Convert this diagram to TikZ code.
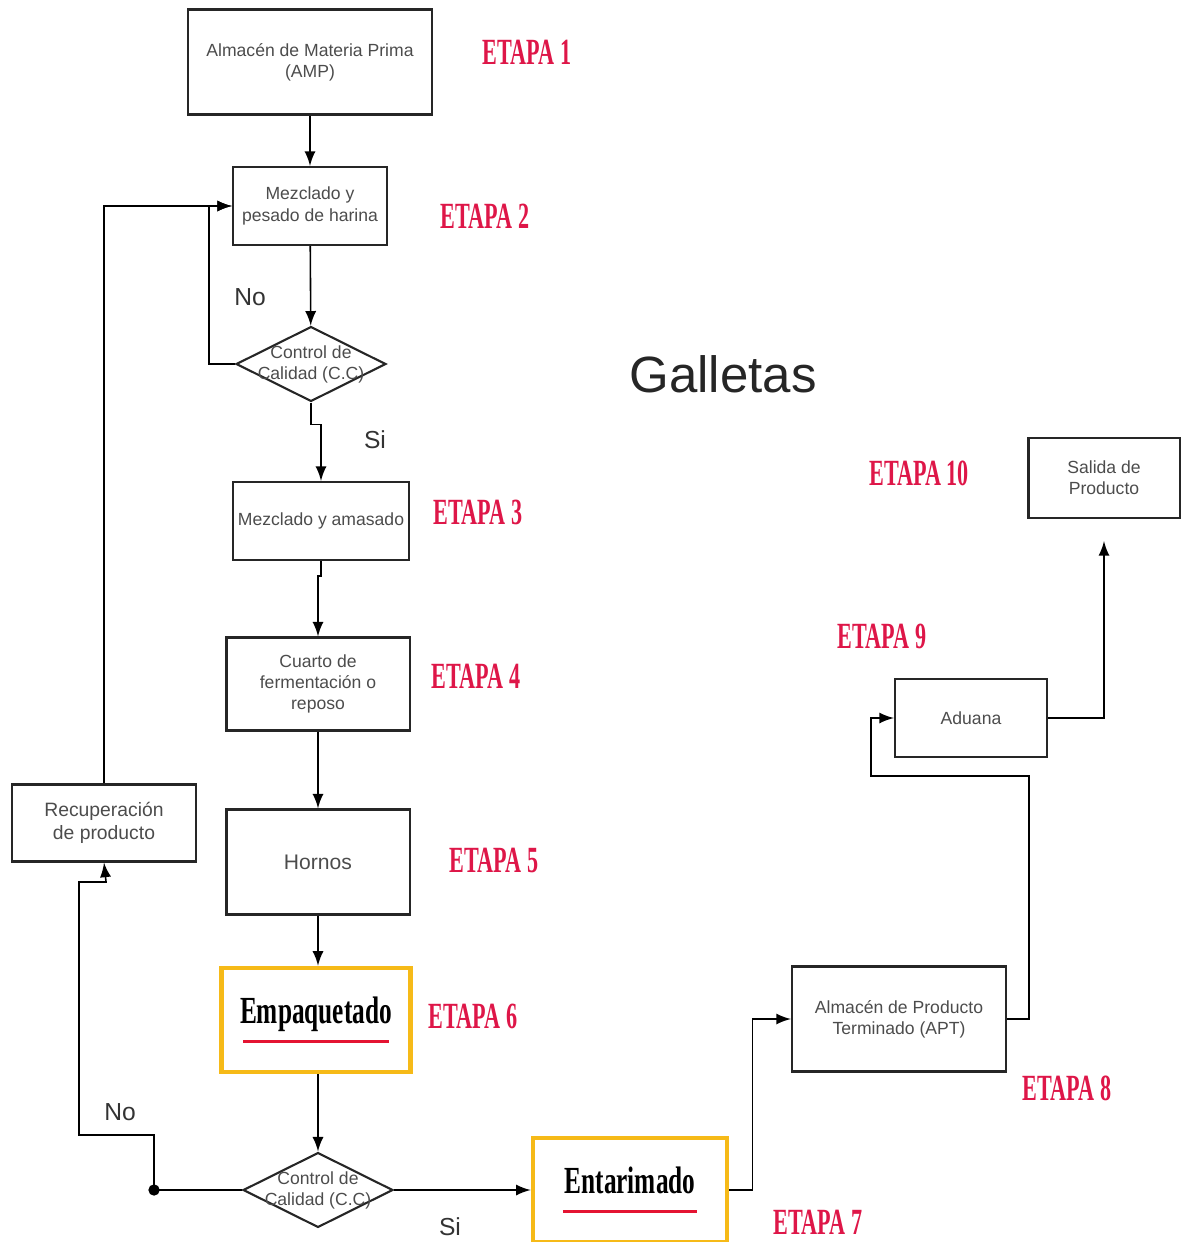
\documentclass[tikz,border=0pt]{standalone}
\usepackage{fontspec}
\setmainfont{Liberation Sans}
\newfontfamily\etapafont{Liberation Serif}
\usetikzlibrary{shapes.geometric}
\usetikzlibrary{calc}

\definecolor{etapared}{RGB}{222,22,72}
\definecolor{boxyellow}{RGB}{246,186,24}
\definecolor{rayared}{RGB}{228,20,50}

\newcommand{\etapatxt}[1]{\scalebox{0.6}[1]{#1}}
\newcommand{\bigtxt}[1]{\scalebox{0.66}[1]{#1}}

\tikzset{
  paso/.style={draw=black!85,line width=0.6pt,align=center,inner sep=1pt,
    text=black!70,font=\fontsize{5}{6}\selectfont},
  decision/.style={paso,diamond,aspect=2,inner sep=-1.5pt},
  destacado/.style={draw=boxyellow,line width=1.3pt,align=center,
    font=\etapafont\bfseries\fontsize{10.9}{11}\selectfont},
  etapa/.style={text=etapared,font=\etapafont\bfseries\fontsize{10.5}{11}\selectfont},
  rama/.style={text=black!80,font=\fontsize{7}{8}\selectfont},
  flecha/.style={-latex,line width=0.45pt}
}

\begin{document}
\begin{tikzpicture}[x=0.01cm,y=-0.01cm]
        \useasboundingbox (0,0) rectangle (1181,1242);

        % columna principal
        \node[paso,minimum width=2.44cm,minimum height=1.05cm] (amp) at (310,62) {Almacén de Materia Prima\\(AMP)};
        \node[paso,minimum width=1.54cm,minimum height=0.78cm] (pesado) at (310,206) {Mezclado y\\pesado de harina};
        \node[decision] (cc1) at (311,364) {Control de\\Calidad (C.C)};
        \node[paso,minimum width=1.76cm,minimum height=0.78cm] (amasado) at (321,521) {Mezclado y amasado};
        \node[paso,minimum width=1.83cm,minimum height=0.93cm] (cuarto) at (318,684) {Cuarto de\\fermentación o\\reposo};
        \node[paso,minimum width=1.83cm,minimum height=1.05cm,font=\fontsize{6}{7}\selectfont] (hornos) at (318,862) {Hornos};
        \node[destacado,minimum width=1.89cm,minimum height=1.04cm] (empaq) at (316,1020) {\bigtxt{Empaquetado}\\[-5.5pt]{\color{rayared}\rule{1.45cm}{0.9pt}}};
        \node[decision] (cc2) at (318,1190) {Control de\\Calidad (C.C)};
        \node[paso,minimum width=1.84cm,minimum height=0.77cm,font=\fontsize{5.5}{6.5}\selectfont] (recup) at (104,823) {Recuperación\\de producto};

        % salida
        \node[destacado,minimum width=1.94cm,minimum height=1.04cm] (entar) at (630,1190) {\bigtxt{Entarimado}\\[-5.5pt]{\color{rayared}\rule{1.34cm}{0.9pt}}};
        \node[paso,minimum width=2.14cm,minimum height=1.05cm] (apt) at (899,1019) {Almacén de Producto\\Terminado (APT)};
        \node[paso,minimum width=1.52cm,minimum height=0.78cm] (aduana) at (971,718) {Aduana};
        \node[paso,minimum width=1.51cm,minimum height=0.80cm] (salida) at (1104,478) {Salida de\\Producto};

        \node[text=black!85,font=\fontsize{14.5}{16}\selectfont] (titulo) at (723,374) {Galletas};

        % etapas
        \node[etapa] (e1) at (527,52) {\etapatxt{ETAPA 1}};
        \node[etapa] (e2) at (485,216) {\etapatxt{ETAPA 2}};
        \node[etapa] (e3) at (478,512) {\etapatxt{ETAPA 3}};
        \node[etapa] (e4) at (476,676) {\etapatxt{ETAPA 4}};
        \node[etapa] (e5) at (494,860) {\etapatxt{ETAPA 5}};
        \node[etapa] (e6) at (473,1016) {\etapatxt{ETAPA 6}};
        \node[etapa] (e7) at (818,1222) {\etapatxt{ETAPA 7}};
        \node[etapa] (e8) at (1067,1088) {\etapatxt{ETAPA 8}};
        \node[etapa] (e9) at (882,636) {\etapatxt{ETAPA 9}};
        \node[etapa] (e10) at (919,473) {\etapatxt{ETAPA 10}};

        \node[rama] (no1) at (250,297) {No};
        \node[rama] (si1) at (375,440) {Si};
        \node[rama] (no2) at (120,1112) {No};
        \node[rama] (si2) at (450,1227) {Si};

        % conectores
        \draw[flecha] (amp) -- (pesado);
        \draw[flecha] (pesado) -- (cc1);
        \draw[flecha] (cc1.south) -- ++(0,22) -| (amasado.north);
        \draw[flecha] (cc1.west) -- ++(-26,0) |- (pesado.west);
        \draw[flecha] (amasado.south) -- ++(0,15) -| (cuarto.north);
        \draw[flecha] (cuarto) -- (hornos);
        \draw[flecha] (hornos.south) -- (hornos.south |- empaq.north);
        \draw[flecha] (empaq.south -| cc2.north) -- (cc2.north);
        \draw[flecha] (cc2.west) -- ++(-88,0) coordinate (junta) -- ++(0,-55) -- ++(-75,0) -- ++(0,-253) -- ++(27,0) -- (recup.south);
        \filldraw (junta) circle (1.4pt);
        \draw[flecha] (recup.north) |- (pesado.west);
        \draw[flecha] (cc2.east) -- (entar.west);
        \draw[flecha] (entar.east) -- ++(23,0) |- (apt.west);
        \draw[flecha] (apt.east) -- ++(22,0) |- ($(aduana.west)+(-23,58)$) |- (aduana.west);
        \draw[flecha,shorten >=0.22cm] (aduana.east) -| (salida.south);
    \end{tikzpicture}
\end{document}
